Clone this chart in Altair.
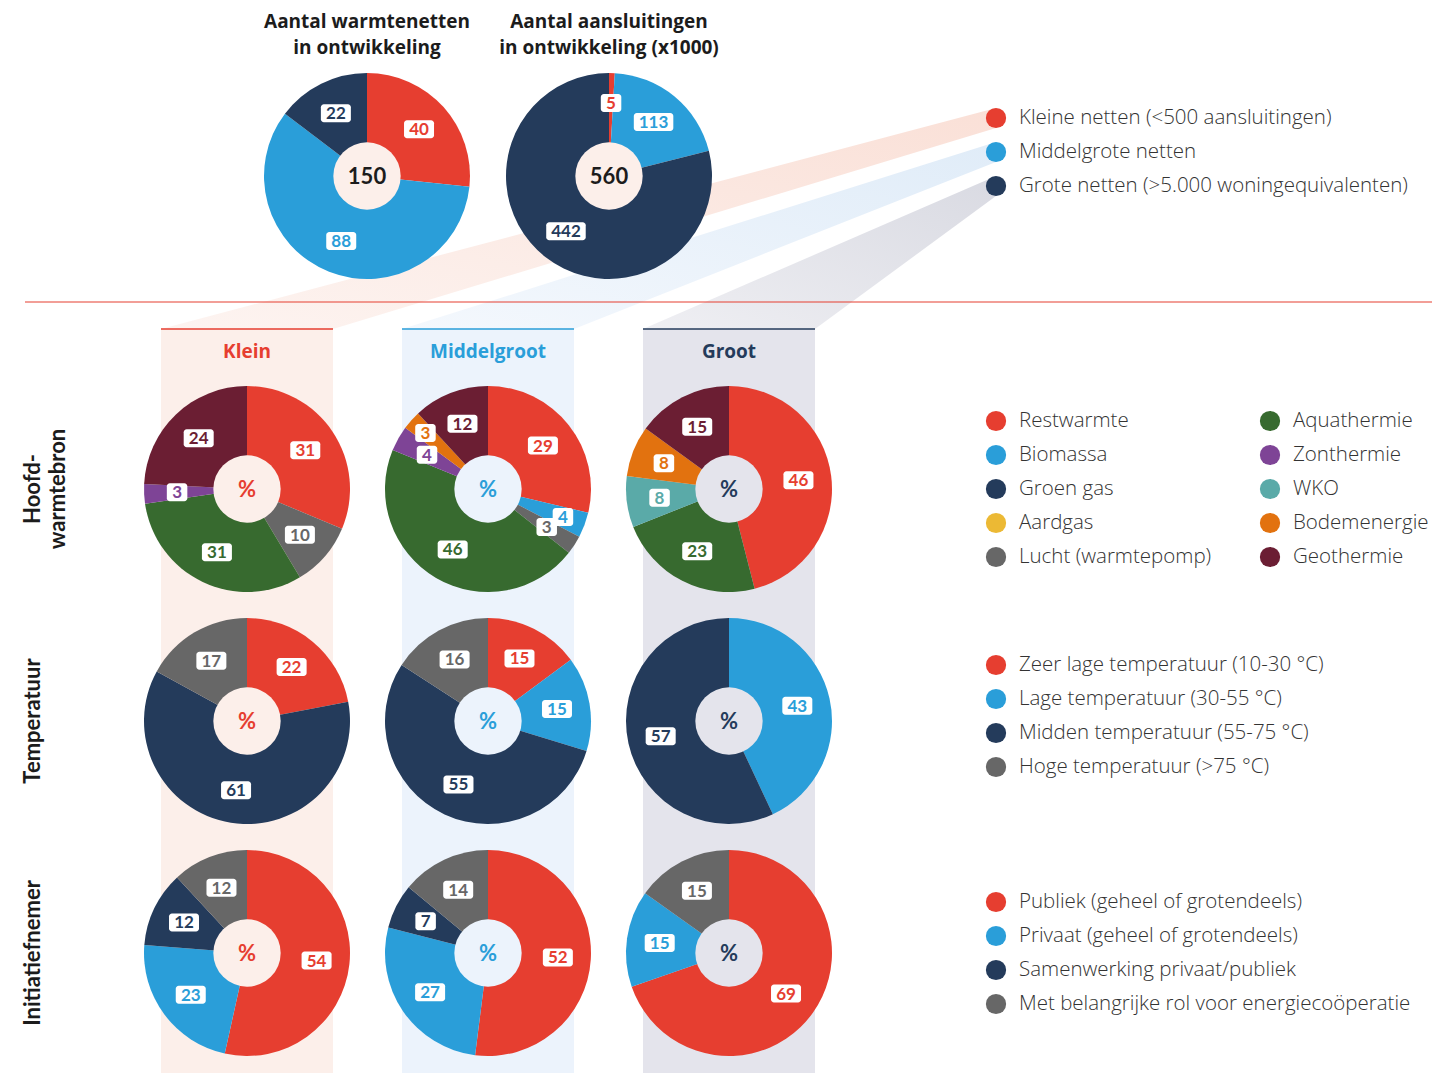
import math
import altair as alt
import pandas as pd

# ---------------- data ----------------
size_labels = ["Kleine netten (<500 aansluitingen)", "Middelgrote netten",
               "Grote netten (>5.000 woningequivalenten)"]
aantal_netten = [40, 88, 22]
aantal_aansluitingen = [5, 113, 442]

bron_labels = ["Restwarmte", "Biomassa", "Groen gas", "Aardgas", "Lucht (warmtepomp)",
               "Aquathermie", "Zonthermie", "WKO", "Bodemenergie", "Geothermie"]
bron_klein = [31, 0, 0, 0, 10, 31, 3, 0, 0, 24]
bron_middel = [29, 4, 0, 0, 3, 46, 4, 0, 3, 12]
bron_groot = [46, 0, 0, 0, 0, 23, 0, 8, 8, 15]

temp_labels = ["Zeer lage temperatuur (10-30 °C)", "Lage temperatuur (30-55 °C)",
               "Midden temperatuur (55-75 °C)", "Hoge temperatuur (>75 °C)"]
temp_klein = [22, 0, 61, 17]
temp_middel = [15, 15, 55, 16]
temp_groot = [0, 43, 57, 0]

init_labels = ["Publiek (geheel of grotendeels)", "Privaat (geheel of grotendeels)",
               "Samenwerking privaat/publiek", "Met belangrijke rol voor energiecoöperatie"]
init_klein = [54, 23, 12, 12]
init_middel = [52, 27, 7, 14]
init_groot = [69, 15, 0, 15]

col_names = ["Klein", "Middelgroot", "Groot"]
row_names = [["Hoofd-", "warmtebron"], ["Temperatuur"], ["Initiatiefnemer"]]
top_titles = [["Aantal warmtenetten", "in ontwikkeling"],
              ["Aantal aansluitingen", "in ontwikkeling (x1000)"]]

# ---------------- style / layout ----------------
RED = "#e63e30"; BLUE = "#2a9ed9"; NAVY = "#243b5b"; YELLOW = "#ecb934"; GRAY = "#676767"
GREEN = "#376a2f"; PURPLE = "#7e4496"; TEAL = "#5aaaa8"; ORANGE = "#e2720f"; MAROON = "#6b1e33"
size_colors = [RED, BLUE, NAVY]
bron_colors = [RED, BLUE, NAVY, YELLOW, GRAY, GREEN, PURPLE, TEAL, ORANGE, MAROON]
four_colors = [RED, BLUE, NAVY, GRAY]
col_bg = ["#fcefea", "#ecf3fc", "#e4e4ec"]
band_strong = ["#fae0d7", "#e0ecf8", "#d9dae2"]
band_light = ["#fdf4f1", "#f4f8fd", "#efeff3"]
TXT = "#333333"
DARK = "#1c1c1c"
FONT = "Lato"
HFONT = "Open Sans"
LFONT = "Open Sans"

W, H = 1430, 1065
OX, OY = 8, 8
col_left = [161, 402, 643]
COL_W = 172
col_cx = [l + COL_W / 2 for l in col_left]
COL_TOP = 329
row_cy = [489, 721, 953]
top_cx = [367, 609]
TOP_CY = 176
R_OUT, R_IN, R_LAB = 103, 38, 70
# labels of narrow neighbouring slices pushed outward (pie id, category index) -> radius
LABEL_R_OVERRIDE = {("r0c1", 1): 80, ("r0c1", 8): 84, ("t2", 0): 73}
LEG_DOT, LEG_TXT = 996, 1019
LEG_DOT2, LEG_TXT2 = 1270, 1293
LEG_STEP = 34

xs = alt.Scale(domain=[OX, OX + W], range=[0, W], zero=False, nice=False)
ys = alt.Scale(domain=[OY, OY + H], range=[0, H], zero=False, nice=False)


def X(f):
    return alt.X(f, type="quantitative", scale=xs, axis=None)


def Y(f):
    return alt.Y(f, type="quantitative", scale=ys, axis=None)


def X2(f):
    return alt.X2(f)


def Y2(f):
    return alt.Y2(f)


layers = []

# column backgrounds
cols_df = pd.DataFrame({
    "x": col_left, "x2": [l + COL_W for l in col_left],
    "y": [COL_TOP] * 3, "y2": [OY + H] * 3,
    "bg": col_bg, "line": size_colors,
})
layers.append(alt.Chart(cols_df).mark_rect().encode(
    x=X("x"), x2=X2("x2"), y=Y("y"), y2=Y2("y2"), color=alt.Color("bg:N", scale=None)))

# connecting bands (legend dot -> column)
for i in range(3):
    dy = 118 + i * LEG_STEP
    top_y = dy - 10
    bot_y = dy + 10
    cl, cr = col_left[i], col_left[i] + COL_W
    y_at_cr = COL_TOP + (top_y - COL_TOP) * (cr - cl) / (LEG_DOT - cl)
    bdf = pd.DataFrame({"x": [cl, cr, LEG_DOT], "y": [COL_TOP, y_at_cr, top_y],
                        "y2": [COL_TOP, COL_TOP, bot_y]})
    grad = alt.Gradient(gradient="linear",
                        stops=[alt.GradientStop(offset=0, color=band_light[i]),
                               alt.GradientStop(offset=1, color=band_strong[i])],
                        x1=0, y1=1, x2=1, y2=0)
    layers.append(alt.Chart(bdf).mark_area(color=grad).encode(
        x=X("x"), y=Y("y"), y2=Y2("y2")))

# column top lines
layers.append(alt.Chart(cols_df).mark_rule(strokeWidth=1.5).encode(
    x=X("x"), x2=X2("x2"), y=Y("y"), color=alt.Color("line:N", scale=None)))

# red separator line
sep_df = pd.DataFrame({"x": [25], "x2": [1432], "y": [302]})
layers.append(alt.Chart(sep_df).mark_rule(strokeWidth=1.2, color=RED).encode(
    x=X("x"), x2=X2("x2"), y=Y("y")))

# ---------------- pies ----------------
pies = []
pies.append(("t1", top_cx[0], TOP_CY, aantal_netten, size_colors, col_bg[0],
             str(sum(aantal_netten)), DARK))
pies.append(("t2", top_cx[1], TOP_CY, aantal_aansluitingen, size_colors, col_bg[0],
             str(sum(aantal_aansluitingen)), DARK))
row_vals = [[bron_klein, bron_middel, bron_groot],
            [temp_klein, temp_middel, temp_groot],
            [init_klein, init_middel, init_groot]]
row_cols = [bron_colors, four_colors, four_colors]
for r in range(3):
    for c in range(3):
        pies.append((f"r{r}c{c}", col_cx[c], row_cy[r], row_vals[r][c], row_cols[r],
                     col_bg[c], "%", size_colors[c]))

rows = []
for pid, cx, cy, vals, cols, inner, ct, cc in pies:
    for k, (v, colr) in enumerate(zip(vals, cols)):
        if v > 0:
            rows.append({"pie": pid, "cx": cx, "cy": cy, "order": k, "value": v,
                         "color": colr, "label": str(v),
                         "lr": LABEL_R_OVERRIDE.get((pid, k), R_LAB)})
slices = pd.DataFrame(rows)
centers = pd.DataFrame([{"pie": p[0], "x": p[1], "y": p[2], "inner": p[5], "text": p[6],
                         "color": p[7]} for p in pies])

base = (alt.Chart(slices)
        .transform_joinaggregate(total="sum(value)", groupby=["pie"])
        .transform_window(cum="sum(value)", sort=[alt.SortField("order")], groupby=["pie"],
                          frame=[None, 0])
        .transform_calculate(start="(datum.cum - datum.value) / datum.total * 2 * PI",
                             end="datum.cum / datum.total * 2 * PI")
        .transform_calculate(mid="(datum.start + datum.end) / 2")
        .transform_calculate(lx="datum.cx + datum.lr * sin(datum.mid)",
                             ly="datum.cy - datum.lr * cos(datum.mid)",
                             bw="11 + 9.5 * length(datum.label)")
        .transform_calculate(lx0="datum.lx - datum.bw / 2", lx1="datum.lx + datum.bw / 2",
                             ly0="datum.ly - 9", ly1="datum.ly + 9"))

layers.append(base.mark_arc(radius=R_OUT, radius2=0).encode(
    x=X("cx"), y=Y("cy"),
    theta=alt.Theta("start:Q", scale=None, stack=None),
    theta2=alt.Theta2("end:Q"),
    color=alt.Color("color:N", scale=None)))

layers.append(alt.Chart(centers).mark_circle(size=math.pi * R_IN ** 2, opacity=1).encode(
    x=X("x"), y=Y("y"), color=alt.Color("inner:N", scale=None)))

layers.append(base.mark_rect(color="white", cornerRadius=3).encode(
    x=X("lx0"), x2=X2("lx1"), y=Y("ly0"), y2=Y2("ly1")))

layers.append(base.mark_text(font=FONT, fontSize=17, fontWeight="bold", baseline="middle",
                             align="center", dy=1).encode(
    x=X("lx"), y=Y("ly"), text="label:N", color=alt.Color("color:N", scale=None)))

layers.append(alt.Chart(centers).mark_text(font=FONT, fontSize=22, fontWeight="bold",
                                           baseline="middle", align="center", dy=1).encode(
    x=X("x"), y=Y("y"), text="text:N", color=alt.Color("color:N", scale=None)))


# ---------------- texts ----------------
def text_layer(df, font, **mk):
    return alt.Chart(df).mark_text(font=font, **mk).encode(
        x=X("x"), y=Y("y"), text="text:N", color=alt.Color("color:N", scale=None))


title_rows = []
for i, lines in enumerate(top_titles):
    for j, t in enumerate(lines):
        title_rows.append({"x": top_cx[i], "y": 22 + j * 26, "text": t, "color": DARK})
layers.append(text_layer(pd.DataFrame(title_rows), HFONT, fontSize=19, fontWeight="bold",
                         align="center", baseline="middle"))

colt = pd.DataFrame({"x": col_cx, "y": [352] * 3, "text": col_names, "color": size_colors})
layers.append(text_layer(colt, HFONT, fontSize=19, fontWeight="bold", align="center",
                         baseline="middle"))

rowt = []
for r, lines in enumerate(row_names):
    for j, t in enumerate(lines):
        rowt.append({"x": 33 + j * 25, "y": row_cy[r], "text": t, "color": DARK})
layers.append(text_layer(pd.DataFrame(rowt), FONT, fontSize=22, fontWeight="bold",
                         align="center", baseline="middle", angle=270))

# legends
leg = []
for k, t in enumerate(size_labels):
    leg.append({"dx": LEG_DOT, "tx": LEG_TXT, "y": 118 + k * LEG_STEP, "text": t,
                "dot": size_colors[k]})
for k, t in enumerate(bron_labels):
    colk = k // 5
    leg.append({"dx": LEG_DOT if colk == 0 else LEG_DOT2,
                "tx": LEG_TXT if colk == 0 else LEG_TXT2,
                "y": 421 + (k % 5) * LEG_STEP, "text": t, "dot": bron_colors[k]})
for k, t in enumerate(temp_labels):
    leg.append({"dx": LEG_DOT, "tx": LEG_TXT, "y": 665 + k * LEG_STEP, "text": t,
                "dot": four_colors[k]})
for k, t in enumerate(init_labels):
    leg.append({"dx": LEG_DOT, "tx": LEG_TXT, "y": 902 + k * LEG_STEP, "text": t,
                "dot": four_colors[k]})
leg_df = pd.DataFrame(leg)

layers.append(alt.Chart(leg_df).mark_circle(size=410, opacity=1).encode(
    x=X("dx"), y=Y("y"), color=alt.Color("dot:N", scale=None)))
layers.append(alt.Chart(leg_df).mark_text(font=LFONT, fontSize=20.5, fontWeight=300,
                                          align="left", baseline="middle", color=TXT).encode(
    x=X("tx"), y=Y("y"), text="text:N"))

chart = (alt.layer(*layers)
         .properties(width=W, height=H, padding=0, autosize="none")
         .configure_view(stroke=None))

chart.save("out.html", embed_options={"renderer": "svg", "actions": False})
